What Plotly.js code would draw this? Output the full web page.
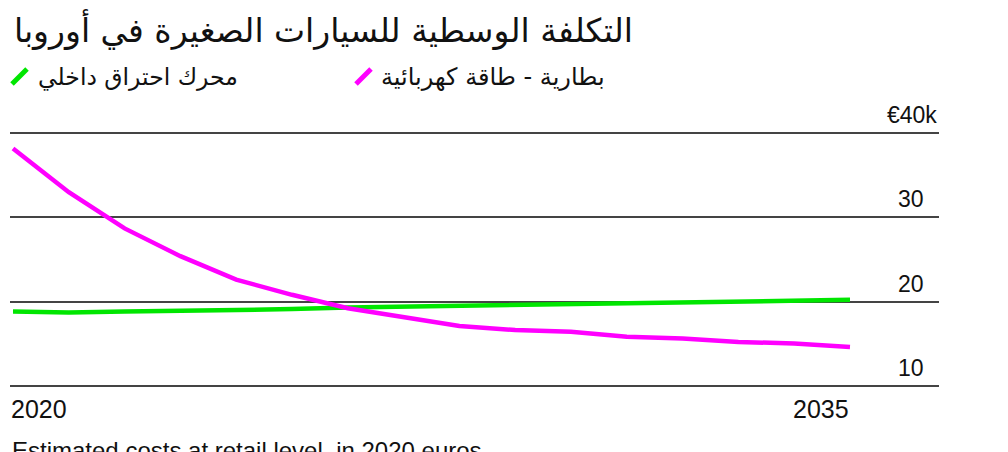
<!DOCTYPE html>
<html>
<head>
<meta charset="utf-8">
<script src="https://cdn.plot.ly/plotly-3.0.1.min.js"></script>
<style>html,body{margin:0;padding:0;background:#fff;}#chart{width:1008px;height:452px;}</style>
</head>
<body>
<div id="chart"></div>
<script>
const years = [2020,2021,2022,2023,2024,2025,2026,2027,2028,2029,2030,2031,2032,2033,2034,2035];
const iceCost = [18.8,18.7,18.8,18.9,18.9,19.1,19.3,19.4,19.5,19.6,19.7,19.8,19.9,20.0,20.1,20.2];
const evCost = [38.2,33.0,28.7,25.4,22.6,20.8,19.2,18.1,17.1,16.6,16.4,15.8,15.6,15.2,15.0,14.6];
const seriesNames = ["محرك احتراق داخلي", "بطارية - طاقة كهربائية"];
const seriesColors = ["#00e600", "#ff00ff"];
const yTickVals = [10, 20, 30, 40];
const yTickText = ["10", "20", "30", "€40k"];
const xTickVals = [2020, 2035];
const xTickText = ["2020", "2035"];
const titleText = "التكلفة الوسطية للسيارات الصغيرة في أوروبا";
const footText = "Estimated costs at retail level, in 2020 euros";

const W = 1008, H = 452;
const M = {l: 10, r: 69, t: 125, b: 58};
const PW = W - M.l - M.r, PH = H - M.t - M.b;
const px = x => (x - M.l) / PW;
const py = y => (H - M.b - y) / PH;

const arabicFont = "DejaVu Sans, Noto Sans, sans-serif";
const latinFont = "Liberation Sans, Arial, sans-serif";

const traces = [
  {x: years, y: iceCost, name: seriesNames[0], mode: "lines", line: {color: seriesColors[0], width: 4.5}},
  {x: years, y: evCost, name: seriesNames[1], mode: "lines", line: {color: seriesColors[1], width: 4.5}}
];

const annotations = [];
yTickVals.forEach((v, i) => {
  const isTop = yTickText[i].indexOf("k") >= 0;
  annotations.push({
    xref: "paper", yref: "y", x: px(isTop ? 939 : 926), y: v,
    xanchor: "right", yanchor: "bottom", yshift: 3,
    text: yTickText[i], showarrow: false,
    font: {family: latinFont, size: 23, color: "#111"}
  });
});
xTickVals.forEach((v, i) => {
  annotations.push({
    xref: "x", yref: "paper", x: v, y: 0,
    xanchor: i === 0 ? "left" : "right", yanchor: "top",
    xshift: i === 0 ? -4 : 1, yshift: 1,
    text: xTickText[i], showarrow: false,
    font: {family: latinFont, size: 25, color: "#111"}
  });
});
// legend texts
const legendRight = [240, 607];
const legendSize = [23.5, 24];
seriesNames.forEach((n, i) => {
  annotations.push({
    xref: "paper", yref: "paper", x: px(legendRight[i]), y: py(77),
    xanchor: "right", yanchor: "middle",
    text: n, showarrow: false,
    font: {family: arabicFont, size: legendSize[i], color: "#111"}
  });
});
annotations.push({
  xref: "paper", yref: "paper", x: px(10), y: py(435),
  xanchor: "left", yanchor: "top",
  text: footText, showarrow: false,
  font: {family: latinFont, size: 24, color: "#111"}
});

const slashX = [[12, 27], [356, 371]];
const shapes = slashX.map((s, i) => ({
  type: "line", xref: "paper", yref: "paper",
  x0: px(s[0]), x1: px(s[1]), y0: py(84), y1: py(69),
  line: {color: seriesColors[i], width: 5}
}));

const layout = {
  width: W, height: H,
  margin: M,
  paper_bgcolor: "#fff", plot_bgcolor: "#fff",
  showlegend: false,
  title: {
    text: titleText, xref: "container", yref: "container",
    x: 633 / W, xanchor: "right", y: 1 - 30 / H, yanchor: "middle",
    font: {family: arabicFont, size: 33, color: "#111"}
  },
  xaxis: {
    range: [2020 - 3 / 55.8, 2020 - 3 / 55.8 + PW / 55.8],
    showgrid: false, zeroline: false, showticklabels: false, ticks: "", showline: false, fixedrange: true
  },
  yaxis: {
    range: [9, 41], tickvals: yTickVals, showticklabels: false, ticks: "",
    showgrid: true, gridcolor: "#444", gridwidth: 2, zeroline: false, showline: false, fixedrange: true
  },
  annotations: annotations,
  shapes: shapes
};

Plotly.newPlot("chart", traces, layout, {displayModeBar: false, staticPlot: true});
</script>
</body>
</html>
